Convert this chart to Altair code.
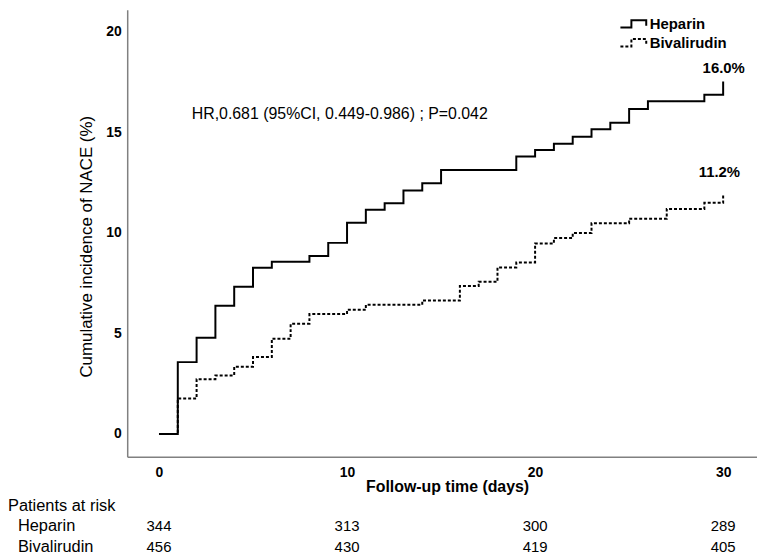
import altair as alt
import pandas as pd

# ---- data ----
heparin_t = [0, 1, 2, 3, 4, 5, 6, 8, 9, 10, 11, 12, 13, 14, 15, 19, 20, 21, 22, 23, 24, 25, 26, 29, 30]
heparin_v = [0, 3.57, 4.78, 6.37, 7.32, 8.26, 8.56, 8.85, 9.50, 10.50, 11.15, 11.47, 12.10, 12.46,
             13.12, 13.79, 14.12, 14.43, 14.78, 15.15, 15.47, 16.16, 16.54, 16.87, 17.53]
biva_t = [0, 1, 2, 3, 4, 5, 6, 7, 8, 10, 11, 14, 16, 17, 18, 19, 20, 21, 22, 23, 25, 27, 29, 30]
biva_v = [0, 1.76, 2.72, 2.91, 3.34, 3.82, 4.73, 5.48, 5.96, 6.17, 6.42, 6.63, 7.36, 7.57,
          8.28, 8.53, 9.47, 9.74, 9.99, 10.48, 10.70, 11.19, 11.49, 11.88]

groups = ["Heparin", "Bivalirudin"]
end_labels = ["16.0%", "11.2%"]
end_label_t = [30.03, 29.8]
end_label_v = [18.2, 13.0]

hr_text = "HR,0.681 (95%CI, 0.449-0.986) ; P=0.042"
hr_t = [1.74]
hr_v = [15.9]

risk_t = [0, 10, 20, 30]
risk_heparin = [344, 313, 300, 289]
risk_biva = [456, 430, 419, 405]

x_ticks = [0, 10, 20, 30]
y_ticks = [0, 5, 10, 15, 20]

FONT = "Liberation Sans, Arial, sans-serif"

rows = []
for i, (t, v) in enumerate(zip(heparin_t, heparin_v)):
    rows.append({"t": t, "v": v, "group": "Heparin", "o": i})
for i, (t, v) in enumerate(zip(biva_t, biva_v)):
    rows.append({"t": t, "v": v, "group": "Bivalirudin", "o": i})
curves = pd.DataFrame(rows)

xscale = alt.Scale(domain=[-1.69, 31.8], nice=False, zero=False)
yscale = alt.Scale(domain=[-1.14, 21.09], nice=False, zero=False)

# small nominal symbol size, path drawn wider than the nominal box
legend_path = "M-2,0.6 L-0.3,0.6 L-0.3,-0.54 L2,-0.54 L2,0.3"

lines = alt.Chart(curves).mark_line(interpolate="step-after", color="black", strokeWidth=2).encode(
    x=alt.X("t:Q", scale=xscale,
            axis=alt.Axis(values=x_ticks, title="Follow-up time (days)", titleX=322, titleY=30,
                          titleAlign="center", titleBaseline="middle", titleFontSize=16,
                          titleFontWeight="bold", labelFontSize=14, labelFontWeight="bold",
                          labelPadding=9, ticks=False, tickSize=0, grid=False,
                          domainColor="#808080", domainWidth=1.5, labelColor="black",
                          titleColor="black", format="d")),
    y=alt.Y("v:Q", scale=yscale,
            axis=alt.Axis(values=y_ticks, title="Cumulative incidence of NACE (%)", titleX=-41,
                          titleY=238, titleAlign="center", titleBaseline="middle", titleAngle=270,
                          titleFontSize=17, titleFontWeight="normal", labelFontSize=14,
                          labelFontWeight="bold", labelPadding=6, ticks=False, tickSize=0,
                          grid=False, domainColor="#808080", domainWidth=1.5,
                          labelColor="black", titleColor="black", format="d")),
    strokeDash=alt.StrokeDash("group:N",
                              scale=alt.Scale(domain=groups, range=[[1, 0], [3, 2]]),
                              legend=alt.Legend(title=None, orient="none", legendX=502, legendY=6.5,
                                                symbolType=legend_path, symbolSize=169,
                                                symbolStrokeWidth=2, symbolStrokeColor="black",
                                                symbolFillColor="transparent",
                                                labelFontSize=15, labelFontWeight="bold",
                                                labelColor="black", labelFont=FONT,
                                                labelOffset=9, rowPadding=2, padding=0)),
    order="o:Q",
)

end_df = pd.DataFrame({"t": end_label_t, "v": end_label_v, "label": end_labels})
ends = alt.Chart(end_df).mark_text(fontSize=15, fontWeight="bold", font=FONT, color="black",
                                   align="center", baseline="middle").encode(
    x=alt.X("t:Q", scale=xscale), y=alt.Y("v:Q", scale=yscale), text="label:N")

hr_df = pd.DataFrame({"t": hr_t, "v": hr_v, "label": [hr_text]})
hr = alt.Chart(hr_df).mark_text(fontSize=16, font=FONT, color="black",
                                align="left", baseline="middle").encode(
    x=alt.X("t:Q", scale=xscale), y=alt.Y("v:Q", scale=yscale), text="label:N")

risk_h_df = pd.DataFrame({"t": risk_t, "n": risk_heparin})
risk_b_df = pd.DataFrame({"t": risk_t, "n": risk_biva})
risk_h = alt.Chart(risk_h_df).mark_text(fontSize=15, font=FONT, color="black",
                                        align="center", baseline="middle").encode(
    x=alt.X("t:Q", scale=xscale), y=alt.value(520), text="n:Q")
risk_b = alt.Chart(risk_b_df).mark_text(fontSize=15, font=FONT, color="black",
                                        align="center", baseline="middle").encode(
    x=alt.X("t:Q", scale=xscale), y=alt.value(541), text="n:Q")

lab_df = pd.DataFrame({"label": ["Patients at risk"]})
lab_main = alt.Chart(lab_df).mark_text(fontSize=16.5, font=FONT, color="black",
                                       align="left", baseline="middle").encode(
    x=alt.value(-120), y=alt.value(500), text="label:N")
lab_h = alt.Chart(pd.DataFrame({"label": [groups[0]]})).mark_text(
    fontSize=16.5, font=FONT, color="black", align="left", baseline="middle").encode(
    x=alt.value(-110), y=alt.value(520), text="label:N")
lab_b = alt.Chart(pd.DataFrame({"label": [groups[1]]})).mark_text(
    fontSize=16.5, font=FONT, color="black", align="left", baseline="middle").encode(
    x=alt.value(-110), y=alt.value(541), text="label:N")

chart = alt.layer(lines, ends, hr, risk_h, risk_b, lab_main, lab_h, lab_b).properties(
    width=634, height=450,
    autosize=alt.AutoSizeParams(type="none"),
    padding={"left": 120, "top": 0, "right": 0, "bottom": 98},
    background="white",
).configure_view(stroke=None).configure_axis(
    labelFont=FONT, titleFont=FONT
).configure_text(font=FONT)

chart.save("out.html", embed_options={"renderer": "svg", "actions": False})
